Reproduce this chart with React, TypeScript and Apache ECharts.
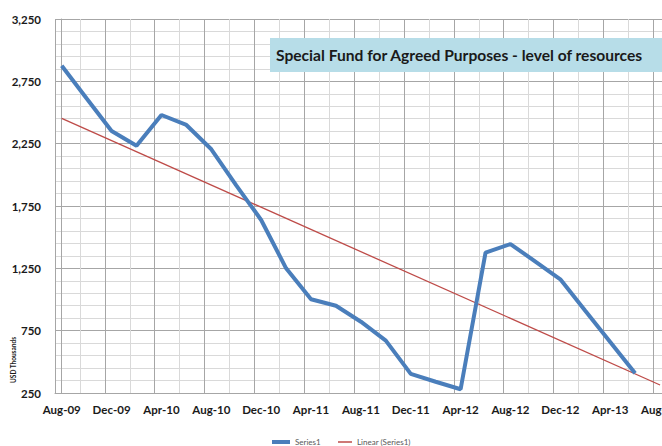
import React, { useEffect, useRef } from "react";
import * as echarts from "echarts";

// Two-month periods along the x axis (Aug-13 is only reached by the trend line)
const periods = [
  "Aug-09", "Oct-09", "Dec-09", "Feb-10", "Apr-10", "Jun-10", "Aug-10", "Oct-10",
  "Dec-10", "Feb-11", "Apr-11", "Jun-11", "Aug-11", "Oct-11", "Dec-11", "Feb-12",
  "Apr-12", "Jun-12", "Aug-12", "Oct-12", "Dec-12", "Feb-13", "Apr-13", "Jun-13",
  "Aug-13",
];

// Series1 - level of resources (USD thousands)
const series1 = [
  2875, 2612, 2352, 2234, 2480, 2400, 2205, 1915,
  1638, 1250, 1002, 950, 822, 670, 403, 340,
  280, 1376, 1445, 1304, 1162, 910, 660, 408,
];

// Linear (Series1) trend line end values (at Aug-09 and Aug-13)
const trendStart = 2453;
const trendEnd = 314;

// x-axis label positions (every 4 months)
const labelPeriods = ["Aug-09", "Dec-09", "Apr-10", "Aug-10", "Dec-10", "Apr-11", "Aug-11", "Dec-11", "Apr-12", "Aug-12", "Dec-12", "Apr-13", "Aug-13"];

const titleText = "Special Fund for Agreed Purposes - level of resources";
const yAxisTitle = "USD Thousands";

const FONT = "Lato";

export default function App() {
  const ref = useRef<HTMLDivElement>(null);

  useEffect(() => {
    if (!ref.current) return;
    const chart = echarts.init(ref.current, undefined, { renderer: "svg" });
    const xMin = -0.27;
    const xMax = 24.5;
    const legendText = { fontFamily: FONT, fontSize: 8, color: "#595959" };
    const option: any = {
      animation: false,
      backgroundColor: "#ffffff",
      grid: {
        left: 55,
        top: 19,
        width: (xMax - xMin) * 24.93,
        height: 374,
        containLabel: false,
        outerBoundsMode: "none",
      },
      xAxis: {
        type: "value",
        min: xMin,
        max: xMax,
        interval: 2,
        axisLine: { show: true, lineStyle: { color: "#a6a6a6", width: 1 } },
        axisTick: { show: false },
        axisLabel: {
          customValues: labelPeriods.map((p) => periods.indexOf(p)),
          formatter: (v: number) => periods[Math.round(v)] ?? "",
          fontFamily: FONT,
          fontWeight: "bold",
          fontSize: 11.5,
          color: "#1a1a1a",
          margin: 10,
        },
        splitLine: { show: true, lineStyle: { color: "#a6a6a6", width: 1 } },
        minorTick: { show: false, splitNumber: 2 },
        minorSplitLine: { show: true, lineStyle: { color: "#d9d9d9", width: 1 } },
      },
      yAxis: {
        type: "value",
        min: 250,
        max: 3250,
        interval: 500,
        axisLine: { show: true, lineStyle: { color: "#a6a6a6", width: 1 } },
        axisTick: { show: false },
        axisLabel: {
          formatter: (v: number) => v.toLocaleString("en-US"),
          fontFamily: FONT,
          fontWeight: "bold",
          fontSize: 11.5,
          color: "#1a1a1a",
          margin: 14,
        },
        splitLine: { show: true, lineStyle: { color: "#a6a6a6", width: 1 } },
        minorTick: { show: false, splitNumber: 5 },
        minorSplitLine: { show: true, lineStyle: { color: "#d9d9d9", width: 1 } },
      },
      legend: [
        {
          left: 272,
          top: 438,
          padding: 0,
          itemWidth: 18,
          itemHeight: 4,
          icon: "rect",
          textStyle: legendText,
          data: ["Series1"],
        },
        {
          left: 338,
          top: 438,
          padding: 0,
          itemWidth: 14,
          itemHeight: 1.5,
          icon: "rect",
          textStyle: legendText,
          data: ["Linear (Series1)"],
        },
      ],
      series: [
        {
          name: "Series1",
          type: "line",
          data: series1.map((v, i) => [i, v]),
          symbol: "none",
          lineStyle: { color: "#4a7ebb", width: 4 },
          itemStyle: { color: "#4a7ebb" },
          z: 3,
        },
        {
          name: "Linear (Series1)",
          type: "line",
          data: [
            [0, trendStart],
            [periods.length - 1, trendEnd],
          ],
          symbol: "none",
          lineStyle: { color: "#be4b48", width: 1.3 },
          itemStyle: { color: "#be4b48" },
          z: 2,
        },
      ],
      graphic: [
        {
          type: "rect",
          z: 100,
          shape: { x: 270, y: 38, width: 420, height: 34 },
          style: { fill: "#b7dde8" },
        },
        {
          type: "text",
          z: 101,
          x: 276,
          y: 55,
          style: {
            text: titleText,
            fontFamily: FONT,
            fontWeight: "bold",
            fontSize: 15.6,
            fill: "#1a1a1a",
            align: "left",
            verticalAlign: "middle",
          },
        },
        {
          type: "text",
          z: 101,
          x: 13,
          y: 360,
          rotation: Math.PI / 2,
          style: {
            text: yAxisTitle,
            fontFamily: FONT,
            fontWeight: "bold",
            fontSize: 6.5,
            fill: "#1a1a1a",
            align: "center",
            verticalAlign: "middle",
          },
        },
      ],
    };
    chart.setOption(option);
    return () => chart.dispose();
  }, []);

  return (
    <div
      ref={ref}
      style={{ position: "absolute", left: 0, top: 0, width: 662, height: 446 }}
    />
  );
}
